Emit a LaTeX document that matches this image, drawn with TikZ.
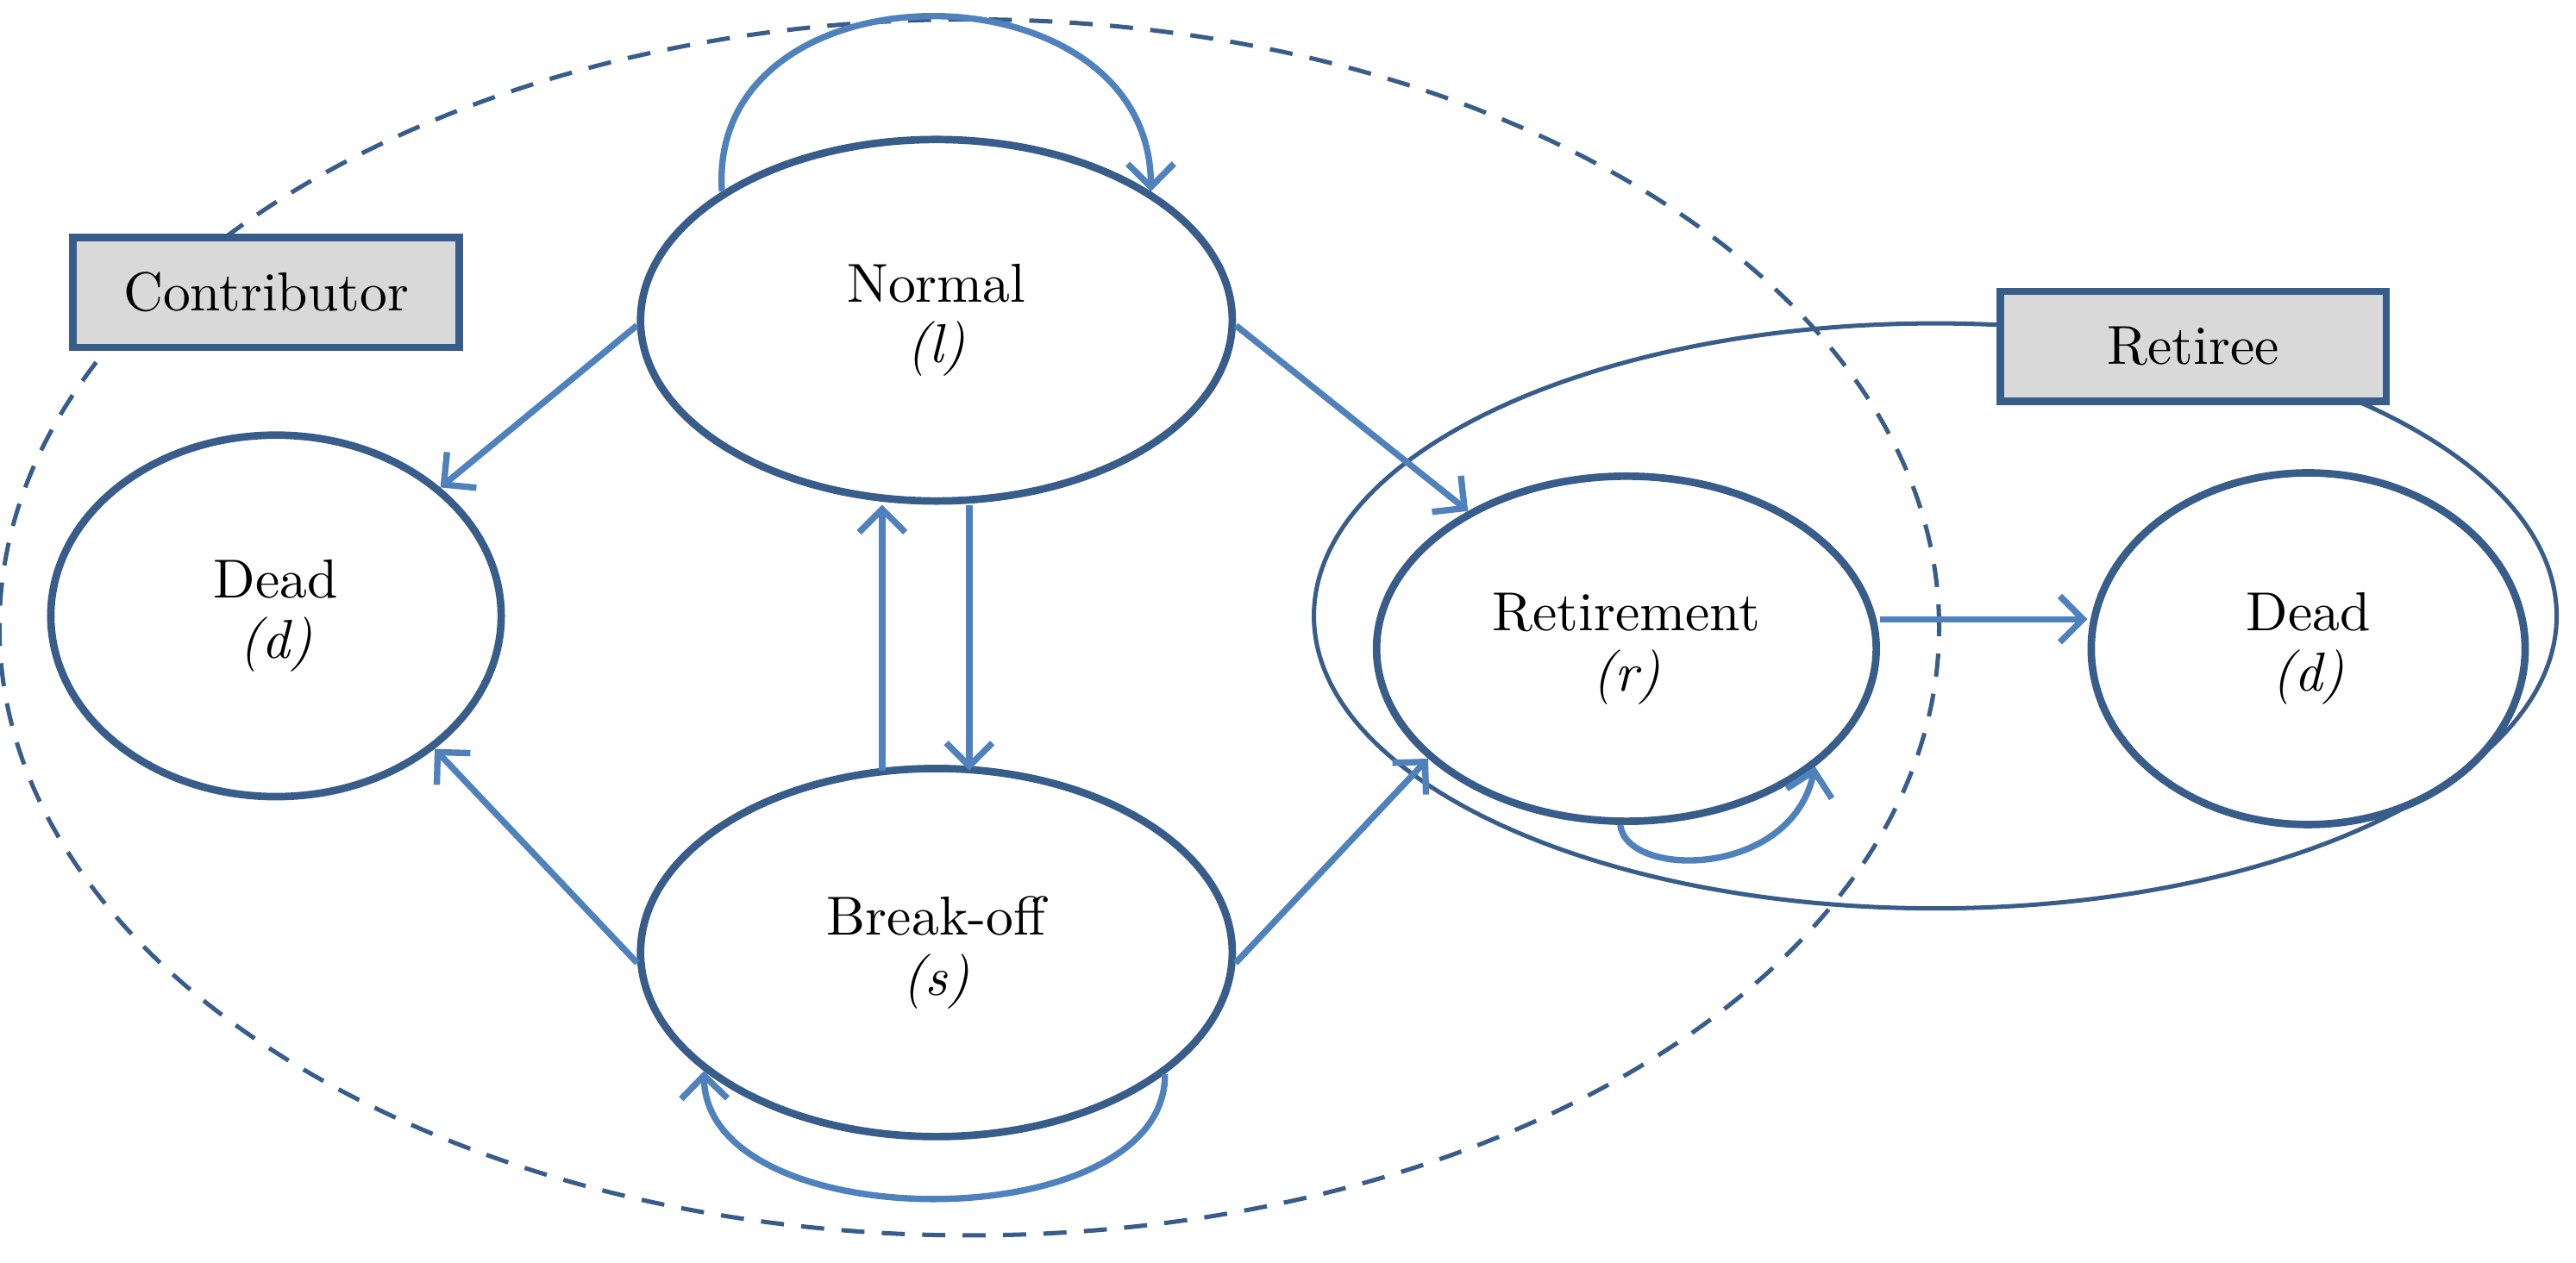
\documentclass[tikz,border=0pt]{standalone}
\usetikzlibrary{shapes.geometric,arrows.meta}
\definecolor{dk}{RGB}{56,93,138}
\definecolor{lt}{RGB}{79,129,189}
\definecolor{gr}{RGB}{217,217,217}
\begin{document}
\begin{tikzpicture}[x=0.01cm,y=-0.01cm,
  st/.style={ellipse,draw=dk,line width=1.3pt,align=center,inner sep=0pt,font=\fontsize{9.5}{10.5}\selectfont},
  arr/.style={draw=lt,line width=1.1pt,-{Straight Barb[length=4pt,width=8pt,line width=1.1pt]}},
  lab/.style={draw=dk,fill=gr,line width=1.3pt,minimum width=2.35cm,minimum height=0.67cm,font=\fontsize{9.5}{11}\selectfont}]
\useasboundingbox (0,0) rectangle (1568,769);
\draw[dk,line width=0.75pt,dash pattern=on 4pt off 3pt] (590,382) ellipse [x radius=5.9cm,y radius=3.7cm];
\draw[dk,line width=0.75pt] (1178,375) ellipse [x radius=3.78cm,y radius=1.78cm];
\node[lab] (cb) at (162,178) {Contributor};
\node[lab] (rb) at (1335,211) {Retiree};
\node[st,minimum width=3.6cm,minimum height=2.2cm] (n) at (570,195) {Normal\\\textit{(l)}};
\node[st,minimum width=2.74cm,minimum height=2.2cm] (dl) at (168,375) {Dead\\\textit{(d)}};
\node[st,minimum width=3.6cm,minimum height=2.24cm] (b) at (570,580) {Break-off\\\textit{(s)}};
\node[st,minimum width=3.04cm,minimum height=2.1cm] (r) at (990,395) {Retirement\\\textit{(r)}};
\node[st,minimum width=2.64cm,minimum height=2.14cm] (dr) at (1405,395) {Dead\\\textit{(d)}};
\draw[arr] (n.181) -- (dl.38);
\draw[arr] (n.-1) -- (r.139);
\draw[arr] (b.182) -- (dl.-40);
\draw[arr] (b.-2) -- (r.209);
\draw[arr] ([xshift=-0.33cm,yshift=-1pt]b.north) -- ([xshift=-0.33cm]n.south);
\draw[arr] ([xshift=0.2cm]n.south) -- ([xshift=0.2cm,yshift=-1pt]b.north);
\draw[arr] (r.east |- 0,377) -- (dr.west |- 0,377);
\draw[arr] (n.149) .. controls (430,-25) and (700,-25) .. (n.31);
\draw[arr] (b.-28) .. controls (710,755) and (430,755) .. (b.207);
\draw[arr] (r.268) .. controls (990,535) and (1090,535) .. (r.-32);
\end{tikzpicture}
\end{document}
